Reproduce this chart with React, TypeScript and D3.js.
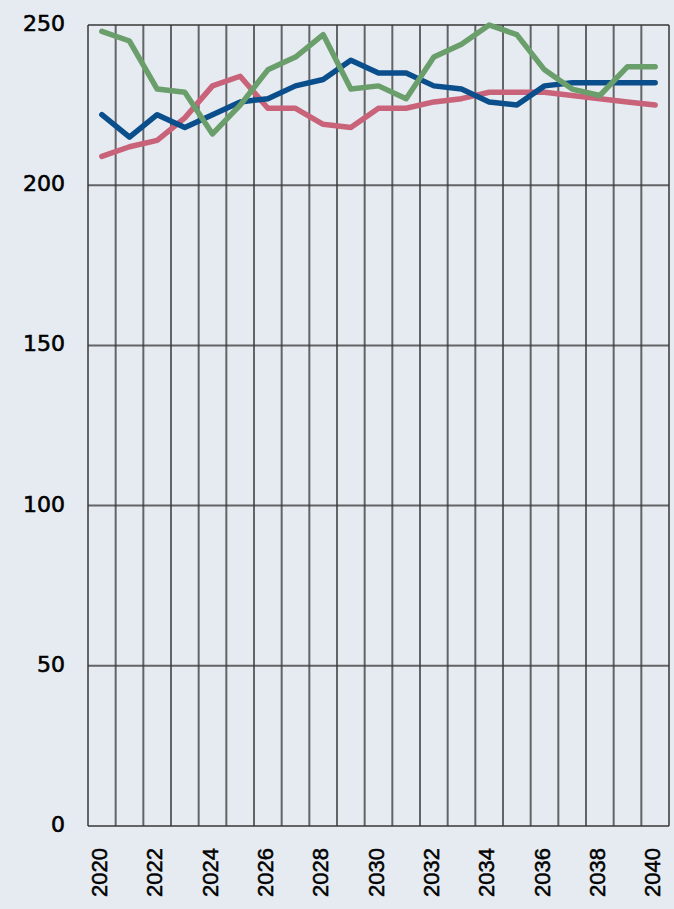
import React from "react";
import * as d3 from "d3";

const years: number[] = d3.range(2020, 2041);
const yTicks: number[] = [0, 50, 100, 150, 200, 250];
const xTickYears: number[] = [2020, 2022, 2024, 2026, 2028, 2030, 2032, 2034, 2036, 2038, 2040];

const blueSeries: number[] = [222, 215, 222, 218, 222, 226, 227, 231, 233, 239, 235, 235, 231, 230, 226, 225, 231, 232, 232, 232, 232];
const redSeries: number[] = [209, 212, 214, 221, 231, 234, 224, 224, 219, 218, 224, 224, 226, 227, 229, 229, 229, 228, 227, 226, 225];
const greenSeries: number[] = [248, 245, 230, 229, 216, 225, 236, 240, 247, 230, 231, 227, 240, 244, 250, 247, 236, 230, 228, 237, 237];

const W = 674;
const H = 909;
const left = 88;
const right = 669;
const top = 25;
const bottom = 826;

export default function App() {
  const x = d3.scaleBand<number>().domain(years).range([left, right]).padding(0);
  const y = d3.scaleLinear().domain([0, 250]).range([bottom, top]);
  const cx = (yr: number) => (x(yr) as number) + x.bandwidth() / 2;

  const line = d3
    .line<number>()
    .x((_, i) => cx(years[i]))
    .y((v) => y(v));

  const series = [
    { data: redSeries, color: "#c9637a" },
    { data: blueSeries, color: "#0a4f8c" },
    { data: greenSeries, color: "#6a9f6c" },
  ];

  const vLines = [...years.map((yr) => x(yr) as number), right];
  const gridColor = "rgba(55,55,55,0.75)";

  return (
    <svg
      width={W}
      height={H}
      style={{ position: "absolute", left: 0, top: 0, display: "block" }}
    >
      <rect x={0} y={0} width={W} height={H} fill="#e6ebf2" />
      {vLines.map((vx, i) => (
        <line key={"v" + i} x1={vx} x2={vx} y1={top} y2={bottom} stroke={gridColor} strokeWidth={2} />
      ))}
      {yTicks.map((t) => (
        <line key={"h" + t} x1={left} x2={right} y1={y(t)} y2={y(t)} stroke={gridColor} strokeWidth={2} />
      ))}
      {series.map((s, i) => (
        <path
          key={"s" + i}
          d={line(s.data) || ""}
          fill="none"
          stroke={s.color}
          strokeWidth={5.5}
          strokeLinejoin="round"
          strokeLinecap="round"
        />
      ))}
      {yTicks.map((t) => (
        <text
          key={"yl" + t}
          x={65}
          y={y(t) + 6}
          textAnchor="end"
          fontFamily="'DejaVu Sans', sans-serif"
          fontSize={22}
          fill="#000"
          stroke="#000"
          strokeWidth={0.6}
        >
          {t}
        </text>
      ))}
      {xTickYears.map((yr) => (
        <text
          key={"xl" + yr}
          transform={`translate(${cx(yr) + 5},848) rotate(-90)`}
          textAnchor="end"
          fontFamily="'Liberation Sans', Arial, sans-serif"
          fontSize={22}
          fill="#000"
          stroke="#000"
          strokeWidth={0.5}
        >
          {yr}
        </text>
      ))}
    </svg>
  );
}
